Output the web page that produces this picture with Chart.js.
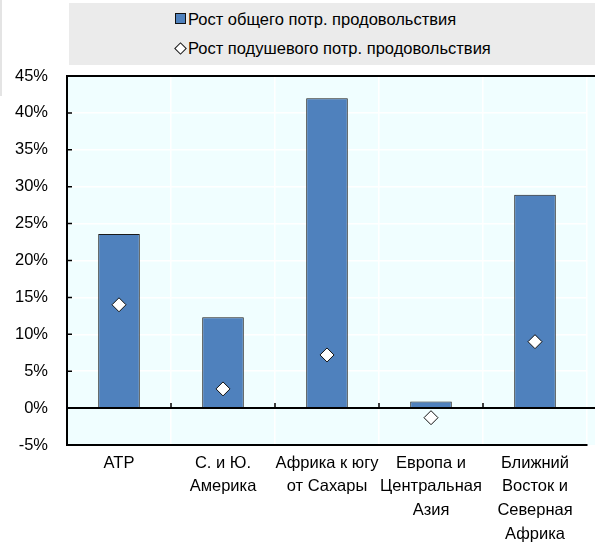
<!DOCTYPE html>
<html>
<head>
<meta charset="utf-8">
<script src="https://cdn.jsdelivr.net/npm/chart.js@4.4.1/dist/chart.umd.min.js"></script>
<style>
  body { margin: 0; background: #fff; }
  #wrap { position: relative; width: 595px; height: 542px; overflow: hidden; }
  #legend { position: absolute; left: 69px; top: 3px; width: 526px; height: 62px; background: #ebebeb;
            font: 16.5px "Liberation Sans", Arial, sans-serif; color: #000; }
  #edge { position: absolute; left: 0; top: 0; width: 2px; height: 96px; background: #e4e4e4; }
  .item { position: absolute; left: 119px; line-height: 20px; white-space: nowrap; }
  .sq { position: absolute; left: 106px; width: 9px; height: 9px; background: #4f81bd; border: 1px solid #111; }
  .dm { position: absolute; left: 107px; width: 7px; height: 7px; background: #fff; border: 1px solid #111; transform: rotate(45deg); }
  canvas { position: absolute; left: 0; top: 0; }
</style>
</head>
<body>
<div id="wrap">
  <canvas id="chart" width="595" height="542"></canvas>
  <div id="edge"></div>
  <div id="legend">
    <span class="sq" style="top:10px"></span><span class="item" style="top:6px">Рост общего потр. продовольствия</span>
    <span class="dm" style="top:41px"></span><span class="item" style="top:35px">Рост подушевого потр. продовольствия</span>
  </div>
</div>
<script>
// categories and values (%)
const categories = [
    'АТР',
    ['С. и Ю.', 'Америка'],
    ['Африка к югу', 'от Сахары'],
    ['Европа и', 'Центральная', 'Азия'],
    ['Ближний', 'Восток и', 'Северная', 'Африка']
];
const totalGrowth = [23.6, 12.3, 42.0, 0.9, 28.9];
const perCapitaGrowth = [14.0, 2.6, 7.2, -1.3, 9.0];
const yMin = -5, yMax = 45, yStep = 5;

Chart.defaults.font.family = '"Liberation Sans", Arial, sans-serif';
Chart.defaults.font.size = 16.5;
Chart.defaults.color = '#000';

// plot background, zero line, outer lines and inward tick marks
const frame = {
    id: 'frame',
    beforeDraw(chart) {
        const { ctx, chartArea: a } = chart;
        ctx.save();
        ctx.fillStyle = '#f0feff';
        ctx.fillRect(a.left, a.top, chart.width - a.left, a.bottom - a.top);
        ctx.restore();
    },
    afterDatasetsDraw(chart) {
        const { ctx, chartArea: a, scales } = chart;
        const y0 = scales.y.getPixelForValue(0);
        ctx.save();
        ctx.strokeStyle = '#000';
        ctx.lineWidth = 2;
        ctx.beginPath();
        ctx.moveTo(a.left, y0); ctx.lineTo(chart.width, y0);
        ctx.moveTo(a.left, a.top); ctx.lineTo(chart.width, a.top);
        ctx.stroke();
        ctx.lineWidth = 1.5;
        ctx.beginPath();
        scales.y.ticks.forEach(t => {
            const p = scales.y.getPixelForValue(t.value);
            ctx.moveTo(a.left, p); ctx.lineTo(a.left + 5, p);
        });
        for (let i = 1; i < categories.length; i++) {
            const p = (scales.x.getPixelForValue(i - 1) + scales.x.getPixelForValue(i)) / 2;
            ctx.moveTo(p, y0); ctx.lineTo(p, y0 - 5);
        }
        ctx.stroke();
        ctx.restore();
    }
};

const ctx = document.getElementById('chart').getContext('2d');
const chart = new Chart(ctx, {
    data: {
        labels: categories,
        datasets: [{
            type: 'line',
            label: 'Рост подушевого потр. продовольствия',
            data: perCapitaGrowth,
            showLine: false,
            pointStyle: 'rectRot',
            pointRadius: 7,
            pointHoverRadius: 7,
            pointBackgroundColor: '#fff',
            pointBorderColor: '#111',
            pointBorderWidth: 1,
            order: 0
        }, {
            type: 'bar',
            label: 'Рост общего потр. продовольствия',
            data: totalGrowth,
            backgroundColor: '#4f81bd',
            borderColor: '#1a1a1a',
            borderWidth: 1,
            barPercentage: 0.4,
            categoryPercentage: 1,
            order: 1
        }]
    },
    options: {
        responsive: false,
        animation: false,
        layout: { padding: { top: 76, left: 0, right: 0, bottom: 0 } },
        plugins: {
            legend: { display: false },
            tooltip: { enabled: false }
        },
        scales: {
            x: {
                offset: true,
                grid: { color: '#fff', lineWidth: 1.5, drawTicks: false, offset: true },
                border: { color: '#000', width: 2 },
                ticks: { padding: 6, maxRotation: 0, autoSkip: false, font: { lineHeight: 1.45 } },
                afterFit(scale) { scale.height = 97; }
            },
            y: {
                min: yMin,
                max: yMax,
                grid: { color: '#fff', lineWidth: 1.5, drawTicks: false },
                border: { color: '#000', width: 2 },
                ticks: {
                    stepSize: yStep,
                    padding: 19,
                    callback: v => v + '%'
                },
                afterFit(scale) { scale.width = 67; }
            }
        }
    },
    plugins: [frame]
});
</script>
</body>
</html>
